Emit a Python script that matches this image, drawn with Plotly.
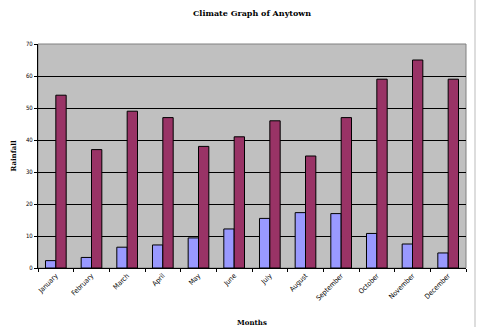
import plotly.graph_objects as go

months = ["January", "February", "March", "April", "May", "June", "July",
          "August", "September", "October", "November", "December"]
temperature = [2.3, 3.3, 6.5, 7.2, 9.4, 12.2, 15.5, 17.3, 17.0, 10.8, 7.5, 4.7]
rainfall = [54, 37, 49, 47, 38, 41, 46, 35, 47, 59, 65, 59]
y_ticks = [0, 10, 20, 30, 40, 50, 60, 70]

fig = go.Figure()
fig.add_trace(go.Bar(x=months, y=temperature, name="Temperature",
                     marker=dict(color="#9999FF", line=dict(color="black", width=1))))
fig.add_trace(go.Bar(x=months, y=rainfall, name="Rainfall",
                     marker=dict(color="#993366", line=dict(color="black", width=1))))

W, H = 478, 327
L, R, T, B = 38, 12, 44, 59
fig.update_layout(
    width=W, height=H,
    margin=dict(l=L, r=R, t=T, b=B, autoexpand=False),
    paper_bgcolor="white",
    plot_bgcolor="#C0C0C0",
    showlegend=False,
    barmode="group",
    bargap=0.42,
    bargroupgap=0,
    title=dict(text="<b>Climate Graph of Anytown</b>", x=0.5, xref="paper",
               y=1 - 13 / H, yanchor="middle",
               font=dict(family="DejaVu Serif", size=8, color="black")),
    font=dict(family="DejaVu Sans Condensed", size=6, color="black"),
)
fig.update_xaxes(
    type="category", tickangle=-45, ticks="outside", tickson="boundaries",
    ticklen=3, tickcolor="black", showline=True, linecolor="black", linewidth=1,
    showgrid=False, tickfont=dict(size=7, color="black"), automargin=False,
    title=dict(text="<b>Months</b>", font=dict(family="DejaVu Serif", size=7, color="black"),
               standoff=18),
)
fig.update_yaxes(
    range=[0, 70], tickvals=y_ticks, ticks="outside", ticklen=3, tickcolor="black",
    showline=True, linecolor="black", linewidth=1, mirror=False,
    showgrid=True, gridcolor="black", gridwidth=1, zeroline=False,
    tickfont=dict(size=6, color="black"), automargin=False,
    title=dict(text="<b>Rainfall</b>", font=dict(family="DejaVu Serif", size=7, color="black"),
               standoff=8),
)
fig.add_shape(type="rect", xref="paper", yref="paper", x0=0, x1=1, y0=0, y1=1,
              line=dict(color="#808080", width=1), layer="below")
fig.add_shape(type="line", xref="paper", yref="paper",
              x0=1 + 9 / (W - L - R), x1=1 + 9 / (W - L - R),
              y0=-B / (H - T - B), y1=1 + T / (H - T - B),
              line=dict(color="#BBBBBB", width=1))

fig.write_html("out.html")
